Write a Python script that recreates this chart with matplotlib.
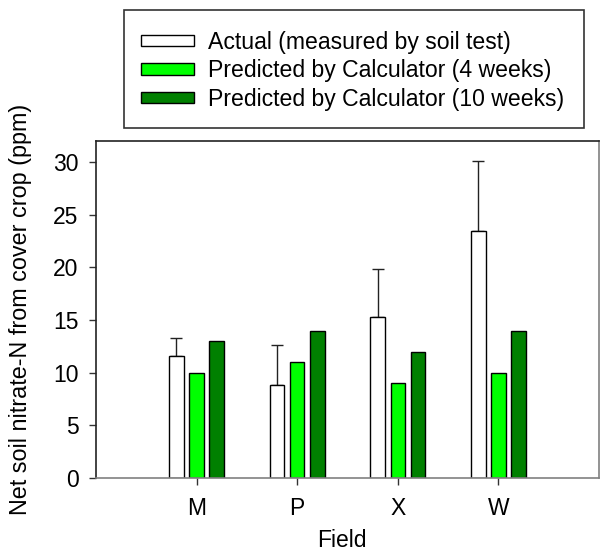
import matplotlib
matplotlib.use("Agg")
import matplotlib.pyplot as plt
from matplotlib.patches import Rectangle
import numpy as np

plt.rcParams['font.family'] = ['Liberation Sans', 'DejaVu Sans']

fields = ["M", "P", "X", "W"]
actual = [11.6, 8.8, 15.3, 23.5]
actual_err = [1.7, 3.8, 4.6, 6.6]
pred_4wk = [10, 11, 9, 10]
pred_10wk = [13, 14, 12, 14]

series_labels = ["Actual (measured by soil test)",
                 "Predicted by Calculator (4 weeks)",
                 "Predicted by Calculator (10 weeks)"]
colors = ["white", "#00FF00", "#008000"]

W, H = 600, 554
fig = plt.figure(figsize=(W / 100, H / 100), dpi=100)
ax_top, ax_bot = 141.3, 477.7
ax = fig.add_axes([96 / W, 1 - ax_bot / H, (599 - 96) / W, (ax_bot - ax_top) / H])

x = np.arange(1, len(fields) + 1)
width = 0.144
offset = 0.2

ax.bar(x - offset, actual, width, color=colors[0], edgecolor="black",
       linewidth=1.0, label=series_labels[0], zorder=2)
ax.errorbar(x - offset, actual, yerr=[np.zeros(len(actual)), actual_err],
            fmt="none", ecolor="#222222", elinewidth=1.0, capsize=4.4,
            capthick=1.0, zorder=1)
ax.bar(x, pred_4wk, width, color=colors[1], edgecolor="black",
       linewidth=1.0, label=series_labels[1], zorder=2)
ax.bar(x + offset, pred_10wk, width, color=colors[2], edgecolor="black",
       linewidth=1.0, label=series_labels[2], zorder=2)

ax.set_xlim(0, 5)
ax.set_ylim(0, 32)
ax.set_xticks(x)
ax.set_xticklabels(fields, fontsize=16.5)
ax.set_yticks(np.arange(0, 31, 5))
ax.tick_params(axis="y", labelsize=16.5, length=5, width=1, pad=7.5,
               color="#333333")
ax.tick_params(axis="x", length=5, width=1, pad=8.9, color="#333333")

for side in ("left", "top"):
    ax.spines[side].set_color("#222222")
    ax.spines[side].set_linewidth(1.2)
for side in ("bottom", "right"):
    ax.spines[side].set_color("#808080")
    ax.spines[side].set_linewidth(1.2)

ax_h = ax_bot - ax_top
ax.set_xlabel("Field", fontsize=16.5, va="top")
ax.xaxis.set_label_coords((341.7 - 96) / 503, (ax_bot - 529) / ax_h)
ax.set_ylabel("Net soil nitrate-N from cover crop (ppm)", fontsize=16.8)
ax.yaxis.set_label_coords((31.6 - 96) / 503, 0.5)

# Legend box above the plot
fig.patches.append(Rectangle((124 / W, 1 - 127.7 / H), (584 - 124) / W,
                             (127.7 - 10) / H, transform=fig.transFigure,
                             facecolor="white", edgecolor="#333333",
                             linewidth=1.2))
handles, labels = ax.get_legend_handles_labels()
fig.legend(handles, labels, loc="upper left",
           bbox_to_anchor=(140.7 / W, 1 - 30.5 / H), frameon=False,
           fontsize=16.6, handlelength=2.3, handleheight=0.38,
           handletextpad=0.6, labelspacing=0.25, borderpad=0.0,
           borderaxespad=0.0)

fig.savefig("out.png", dpi=100)
